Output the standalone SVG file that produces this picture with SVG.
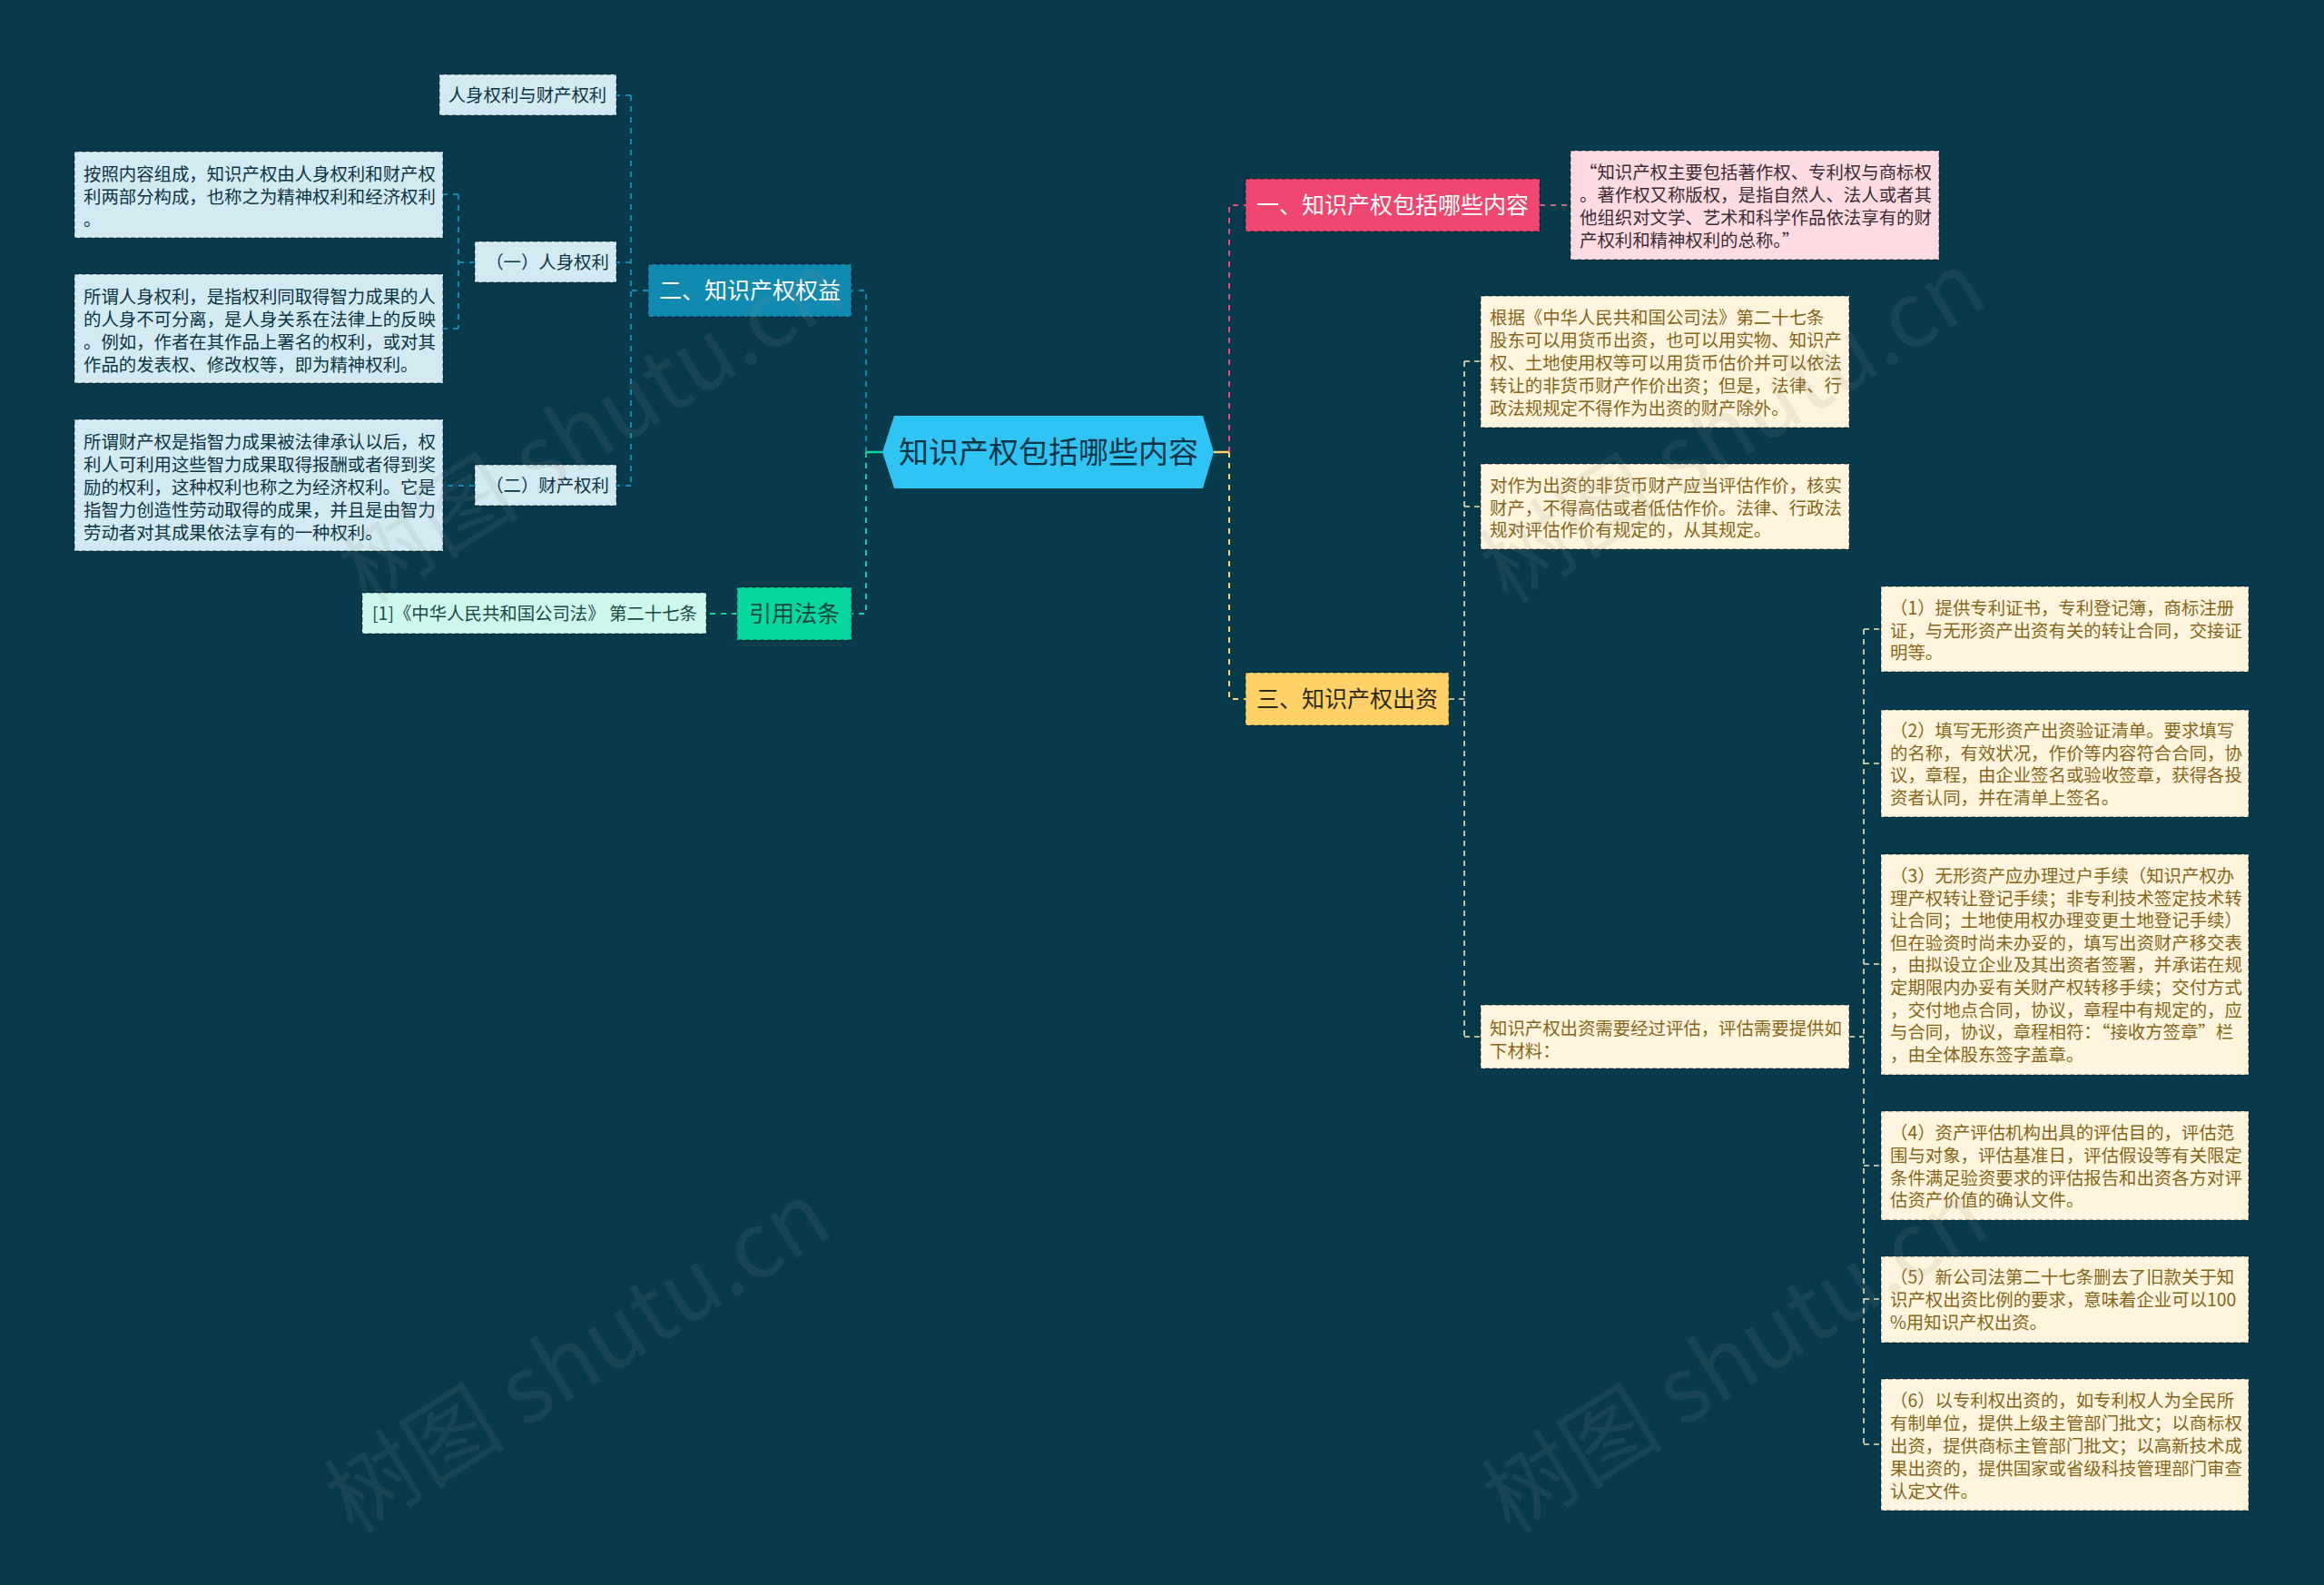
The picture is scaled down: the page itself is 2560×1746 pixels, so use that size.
<svg xmlns="http://www.w3.org/2000/svg" width="2560" height="1746" viewBox="0 0 2560 1746">
<style>
text{font-family:"Noto Sans CJK SC","Noto Sans",sans-serif;}
.b{font-size:19.4px;}
.t{font-size:25px;}
.c{text-anchor:middle;}
.bx{stroke:rgba(0,0,0,0.4);stroke-width:1.5;stroke-dasharray:5 3;}
.lb{fill:#d4eaf2;}
.mint{fill:#cdf7ec;}
.pk{fill:#fcdbe3;}
.yl{fill:#fff5de;}
.dk{fill:#0b3444;}
.gd{fill:#86651a;}
.cn{fill:none;stroke-width:2;stroke-dasharray:6 6;}
.cs{fill:none;stroke-width:1.6;stroke-dasharray:6 5;}
.wm{font-size:100px;fill:#8a8a8a;fill-opacity:0.13;font-family:"Noto Sans CJK SC","Liberation Sans",sans-serif;}
</style>
<rect x="0" y="0" width="2560" height="1746" fill="#073b4c"/>

<g id="connectors">
  <path class="cn" stroke="#118ab2" d="M954,498 V320 H938"/>
  <path class="cn" stroke="#06d6a0" d="M954,498 V676 H938"/>
  <path d="M954,498 H972" stroke="#06d6a0" stroke-width="2.5" fill="none"/>
  <path class="cn" stroke="#06d6a0" d="M812,676 H778"/>
  <path class="cn" stroke="#118ab2" d="M714,320 H695"/>
  <path class="cn" stroke="#118ab2" d="M695,105 V535"/>
  <path class="cn" stroke="#118ab2" d="M695,105 H679 M695,289 H679 M695,535 H679"/>
  <path class="cn" stroke="#118ab2" d="M523,289 H505 M505,214 V362 M505,214 H488 M505,362 H488"/>
  <path class="cn" stroke="#118ab2" d="M523,535 H488"/>
  <path d="M1337,498 H1354" stroke="#ffd166" stroke-width="2.5" fill="none"/>
  <path class="cn" stroke="#ef476f" d="M1354,498 V226 H1372"/>
  <path class="cn" stroke="#c06d86" d="M1696,226 H1730"/>
  <path class="cn" stroke="#ffd166" d="M1354,498 V770 H1372"/>
  <path class="cs" stroke="#f3e3b5" d="M1596,770 H1613 M1613,398 V1142 M1613,398 H1631 M1613,558 H1631 M1613,1142 H1631"/>
  <path class="cs" stroke="#f3e3b5" d="M2037,1142 H2053 M2053,693 V1591 M2053,693 H2072 M2053,841 H2072 M2053,1062 H2072 M2053,1284 H2072 M2053,1431 H2072 M2053,1591 H2072"/>
</g>

<g id="root">
  <polygon points="972,498 985,458 1325,458 1337,498 1325,538 985,538" fill="#30c4f4"/>
  <text x="1155" y="510" class="c" style="font-size:33px" fill="#0d3444">知识产权包括哪些内容</text>
</g>

<g id="n2">
  <rect x="714" y="291" width="224" height="58" fill="#118ab2" class="bx"/>
  <text x="826" y="329" class="t c" fill="#ffffff">二、知识产权权益</text>
</g>
<g id="n2a">
  <rect x="484" y="82" width="195" height="45" class="lb bx"/>
  <text x="581" y="112" class="b c dk">人身权利与财产权利</text>
</g>
<g id="n2b">
  <rect x="523" y="266" width="156" height="45" class="lb bx"/>
  <text x="603" y="296" class="b c dk">（一）人身权利</text>
</g>
<g id="n2b1">
  <rect x="82" y="167" width="406" height="95" class="lb bx"/>
  <text class="b dk"><tspan x="92" y="199">按照内容组成，知识产权由人身权利和财产权</tspan><tspan x="92" y="224">利两部分构成，也称之为精神权利和经济权利</tspan><tspan x="92" y="249">。</tspan></text>
</g>
<g id="n2b2">
  <rect x="82" y="302" width="406" height="120" class="lb bx"/>
  <text class="b dk"><tspan x="92" y="334">所谓人身权利，是指权利同取得智力成果的人</tspan><tspan x="92" y="359">的人身不可分离，是人身关系在法律上的反映</tspan><tspan x="92" y="384">。例如，作者在其作品上署名的权利，或对其</tspan><tspan x="92" y="409">作品的发表权、修改权等，即为精神权利。</tspan></text>
</g>
<g id="n2c">
  <rect x="523" y="512" width="156" height="45" class="lb bx"/>
  <text x="603" y="542" class="b c dk">（二）财产权利</text>
</g>
<g id="n2c1">
  <rect x="82" y="462" width="406" height="145" class="lb bx"/>
  <text class="b dk"><tspan x="92" y="494">所谓财产权是指智力成果被法律承认以后，权</tspan><tspan x="92" y="519">利人可利用这些智力成果取得报酬或者得到奖</tspan><tspan x="92" y="544">励的权利，这种权利也称之为经济权利。它是</tspan><tspan x="92" y="569">指智力创造性劳动取得的成果，并且是由智力</tspan><tspan x="92" y="594">劳动者对其成果依法享有的一种权利。</tspan></text>
</g>

<g id="n4">
  <rect x="812" y="647" width="126" height="58" fill="#06d6a0" class="bx"/>
  <text x="875" y="685" class="t c" fill="#0b4a3c">引用法条</text>
</g>
<g id="n4a">
  <rect x="399" y="653" width="379" height="45" class="mint bx"/>
  <text x="589" y="683" class="b c" fill="#1d4a48">[1]《中华人民共和国公司法》 第二十七条</text>
</g>

<g id="n1">
  <rect x="1372" y="197" width="324" height="58" fill="#ef476f" class="bx"/>
  <text x="1534" y="235" class="t c" fill="#ffffff">一、知识产权包括哪些内容</text>
</g>
<g id="n1a">
  <rect x="1730" y="166" width="406" height="120" class="pk bx"/>
  <text class="b" fill="#3d2b33"><tspan x="1740" y="197">“知识产权主要包括著作权、专利权与商标权</tspan><tspan x="1740" y="222">。著作权又称版权，是指自然人、法人或者其</tspan><tspan x="1740" y="247">他组织对文学、艺术和科学作品依法享有的财</tspan><tspan x="1740" y="272">产权利和精神权利的总称。”</tspan></text>
</g>

<g id="n3">
  <rect x="1372" y="741" width="224" height="58" fill="#ffd166" class="bx"/>
  <text x="1484" y="779" class="t c" fill="#2e2a1a">三、知识产权出资</text>
</g>
<g id="n3a">
  <rect x="1631" y="326" width="406" height="145" class="yl bx"/>
  <text class="b gd"><tspan x="1641" y="357">根据《中华人民共和国公司法》第二十七条</tspan><tspan x="1641" y="382">股东可以用货币出资，也可以用实物、知识产</tspan><tspan x="1641" y="407">权、土地使用权等可以用货币估价并可以依法</tspan><tspan x="1641" y="432">转让的非货币财产作价出资；但是，法律、行</tspan><tspan x="1641" y="457">政法规规定不得作为出资的财产除外。</tspan></text>
</g>
<g id="n3b">
  <rect x="1631" y="511" width="406" height="94" class="yl bx"/>
  <text class="b gd"><tspan x="1641" y="542">对作为出资的非货币财产应当评估作价，核实</tspan><tspan x="1641" y="567">财产，不得高估或者低估作价。法律、行政法</tspan><tspan x="1641" y="591">规对评估作价有规定的，从其规定。</tspan></text>
</g>
<g id="n3c">
  <rect x="1631" y="1107" width="406" height="70" class="yl bx"/>
  <text class="b gd"><tspan x="1641" y="1140">知识产权出资需要经过评估，评估需要提供如</tspan><tspan x="1641" y="1165">下材料：</tspan></text>
</g>
<g id="d1">
  <rect x="2072" y="646" width="405" height="94" class="yl bx"/>
  <text class="b gd"><tspan x="2082" y="677">（1）提供专利证书，专利登记簿，商标注册</tspan><tspan x="2082" y="702">证，与无形资产出资有关的转让合同，交接证</tspan><tspan x="2082" y="726">明等。</tspan></text>
</g>
<g id="d2">
  <rect x="2072" y="782" width="405" height="118" class="yl bx"/>
  <text class="b gd"><tspan x="2082" y="812">（2）填写无形资产出资验证清单。要求填写</tspan><tspan x="2082" y="837">的名称，有效状况，作价等内容符合合同，协</tspan><tspan x="2082" y="861">议，章程，由企业签名或验收签章，获得各投</tspan><tspan x="2082" y="886">资者认同，并在清单上签名。</tspan></text>
</g>
<g id="d3">
  <rect x="2072" y="941" width="405" height="243" class="yl bx"/>
  <text class="b gd"><tspan x="2082" y="972">（3）无形资产应办理过户手续（知识产权办</tspan><tspan x="2082" y="997">理产权转让登记手续；非专利技术签定技术转</tspan><tspan x="2082" y="1021">让合同；土地使用权办理变更土地登记手续）</tspan><tspan x="2082" y="1046">但在验资时尚未办妥的，填写出资财产移交表</tspan><tspan x="2082" y="1070">，由拟设立企业及其出资者签署，并承诺在规</tspan><tspan x="2082" y="1095">定期限内办妥有关财产权转移手续；交付方式</tspan><tspan x="2082" y="1120">，交付地点合同，协议，章程中有规定的，应</tspan><tspan x="2082" y="1144">与合同，协议，章程相符：“接收方签章”栏</tspan><tspan x="2082" y="1169">，由全体股东签字盖章。</tspan></text>
</g>
<g id="d4">
  <rect x="2072" y="1224" width="405" height="120" class="yl bx"/>
  <text class="b gd"><tspan x="2082" y="1255">（4）资产评估机构出具的评估目的，评估范</tspan><tspan x="2082" y="1280">围与对象，评估基准日，评估假设等有关限定</tspan><tspan x="2082" y="1305">条件满足验资要求的评估报告和出资各方对评</tspan><tspan x="2082" y="1329">估资产价值的确认文件。</tspan></text>
</g>
<g id="d5">
  <rect x="2072" y="1384" width="405" height="95" class="yl bx"/>
  <text class="b gd"><tspan x="2082" y="1414">（5）新公司法第二十七条删去了旧款关于知</tspan><tspan x="2082" y="1439">识产权出资比例的要求，意味着企业可以100</tspan><tspan x="2082" y="1464">%用知识产权出资。</tspan></text>
</g>
<g id="d6">
  <rect x="2072" y="1519" width="405" height="145" class="yl bx"/>
  <text class="b gd"><tspan x="2082" y="1550">（6）以专利权出资的，如专利权人为全民所</tspan><tspan x="2082" y="1575">有制单位，提供上级主管部门批文；以商标权</tspan><tspan x="2082" y="1600">出资，提供商标主管部门批文；以高新技术成</tspan><tspan x="2082" y="1625">果出资的，提供国家或省级科技管理部门审查</tspan><tspan x="2082" y="1650">认定文件。</tspan></text>
</g>

<g id="watermarks">
  <text class="wm c" transform="translate(670,500) rotate(-32)">树图 shutu.cn</text>
  <text class="wm c" transform="translate(1927,500) rotate(-32)">树图 shutu.cn</text>
  <text class="wm c" transform="translate(655,1525) rotate(-32)">树图 shutu.cn</text>
  <text class="wm c" transform="translate(1930,1525) rotate(-32)">树图 shutu.cn</text>
</g>
</svg>
